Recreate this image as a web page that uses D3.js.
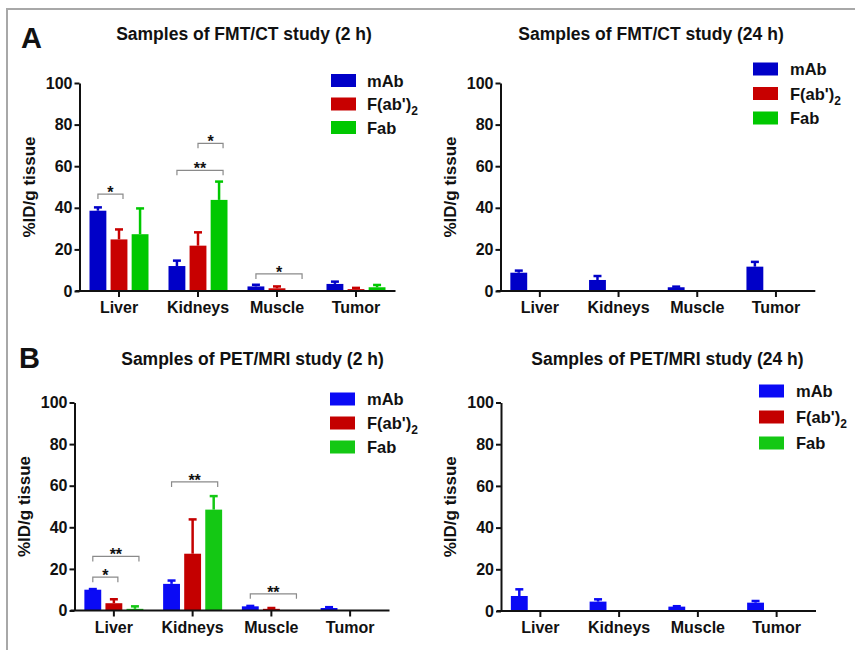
<!DOCTYPE html>
<html>
<head>
<meta charset="utf-8">
<script src="https://cdn.jsdelivr.net/npm/d3@7"></script>
<style>
  body { margin: 0; background: #fff; }
  svg text { font-family: "Liberation Sans", Arial, sans-serif; font-weight: bold; fill: #111; }
</style>
</head>
<body>
<svg id="chart" width="855" height="650"></svg>
<script>
const categories = ["Liver", "Kidneys", "Muscle", "Tumor"];
const seriesNames = ["mAb", "F(ab')2", "Fab"];
const yTicks = [0, 20, 40, 60, 80, 100];

// means / errors per series (mAb, F(ab')2, Fab), by category
const fmt2hMeans = [[38.6, 12.0, 2.2, 3.4], [24.8, 21.8, 1.3, 0.9], [27.3, 43.8, 0, 1.8]];
const fmt2hErr   = [[1.6, 2.6, 0.8, 1.1], [4.8, 6.4, 0.9, 0.6], [12.4, 8.8, 0, 1.1]];
const fmt24hMeans = [[8.8, 5.3, 1.8, 11.7], [0, 0, 0, 0], [0, 0, 0, 0]];
const fmt24hErr   = [[1.0, 1.9, 0.3, 2.3], [0, 0, 0, 0], [0, 0, 0, 0]];
const pet2hMeans = [[10.0, 12.8, 2.0, 1.2], [3.5, 27.3, 0.8, 0], [0.8, 48.5, 0, 0]];
const pet2hErr   = [[0.3, 1.6, 0.2, 0.4], [1.9, 16.5, 0.4, 0], [1.2, 6.5, 0, 0]];
const pet24hMeans = [[7.2, 4.5, 2.1, 4.0], [0, 0, 0, 0], [0, 0, 0, 0]];
const pet24hErr   = [[3.2, 1.1, 0.2, 0.8], [0, 0, 0, 0], [0, 0, 0, 0]];

// significance: category, from series, to series, bracket level, label
const fmt2hSig = [["Liver", 0, 1, 46.6, "*"], ["Kidneys", 0, 2, 58, "**"], ["Kidneys", 1, 2, 71, "*"], ["Muscle", 0, 2, 8.2, "*"]];
const pet2hSig = [["Liver", 0, 1, 16, "*"], ["Liver", 0, 2, 26, "**"], ["Kidneys", 0, 2, 61.8, "**"], ["Muscle", 0, 2, 8, "**"]];

const colorsA = ["#0000c8", "#c80000", "#00c800"];
const colorsB = ["#0a0af5", "#c40000", "#14c814"];

const svg = d3.select("#chart");

// figure frame
svg.append("path").attr("d", "M7,650 L7,9 L855,9")
  .attr("fill", "none").attr("stroke", "#a8a8a8").attr("stroke-width", 2);

svg.append("text").attr("x", 21).attr("y", 48).style("font-size", "29px").text("A");
svg.append("text").attr("x", 19).attr("y", 368).style("font-size", "29px").text("B");

function drawPanel(p) {
  const g = svg.append("g");
  const y = d3.scaleLinear().domain([0, 100]).range([p.y0, p.y100]);
  const x0 = d3.scaleBand().domain(categories).range([p.left, p.right]);
  const x1 = d3.scaleBand().domain(d3.range(seriesNames.length))
    .range([-29.5, 29.5]).paddingInner(0.2);
  const color = d3.scaleOrdinal().domain(d3.range(3)).range(p.colors);

  // title
  g.append("text").attr("x", p.titleX).attr("y", p.titleY)
    .attr("text-anchor", "middle").style("font-size", "17.5px").text(p.title);

  // y label
  g.append("text")
    .attr("transform", `translate(${p.left - 45},${y(50)}) rotate(-90)`)
    .attr("text-anchor", "middle").style("font-size", "17px").text("%ID/g tissue");

  // bars
  const cells = [];
  p.means.forEach((row, s) => row.forEach((v, c) => cells.push({ s, c: categories[c], v, e: p.err[s][c] })));

  g.selectAll("rect.bar").data(cells.filter(d => d.v > 0)).join("rect")
    .attr("class", "bar")
    .attr("x", d => x0(d.c) + x0.bandwidth() / 2 + x1(d.s))
    .attr("width", x1.bandwidth())
    .attr("y", d => y(d.v))
    .attr("height", d => y(0) - y(d.v))
    .attr("fill", d => color(d.s));

  // error bars (upper only)
  const eb = g.selectAll("g.err").data(cells.filter(d => d.v > 0 && d.e > 0)).join("g")
    .attr("class", "err")
    .attr("transform", d => `translate(${x0(d.c) + x0.bandwidth() / 2 + x1(d.s) + x1.bandwidth() / 2},0)`);
  eb.append("line").attr("x1", 0).attr("x2", 0)
    .attr("y1", d => y(d.v)).attr("y2", d => y(d.v + d.e))
    .attr("stroke", d => color(d.s)).attr("stroke-width", 2.5);
  eb.append("line").attr("x1", -4).attr("x2", 4)
    .attr("y1", d => y(d.v + d.e)).attr("y2", d => y(d.v + d.e))
    .attr("stroke", d => color(d.s)).attr("stroke-width", 2.5);

  // axes
  const yAxis = d3.axisLeft(y).tickValues(yTicks).tickSize(5).tickPadding(2).tickSizeOuter(0);
  const ya = g.append("g").attr("transform", `translate(${p.left},0)`).call(yAxis);
  ya.selectAll("path, line").attr("stroke", "#111").attr("stroke-width", 2);
  ya.selectAll("text").style("font-size", "16px").attr("fill", "#111");

  const xAxis = d3.axisBottom(x0).tickSize(6).tickPadding(5).tickSizeOuter(0);
  const xa = g.append("g").attr("transform", `translate(0,${p.y0})`).call(xAxis);
  xa.select(".domain").remove();
  xa.append("line").attr("x1", p.left - 4).attr("x2", p.right).attr("y1", 0).attr("y2", 0)
    .attr("stroke", "#111").attr("stroke-width", 2);
  xa.selectAll(".tick line").attr("stroke", "#111").attr("stroke-width", 2);
  xa.selectAll("text").style("font-size", "16px").attr("fill", "#111");

  // significance brackets
  const barCenter = (c, s) => x0(c) + x0.bandwidth() / 2 + x1(s) + x1.bandwidth() / 2;
  const sg = g.selectAll("g.sig").data(p.sig || []).join("g").attr("class", "sig");
  sg.append("path")
    .attr("d", d => {
      const xa1 = barCenter(d[0], d[1]), xa2 = barCenter(d[0], d[2]) + 4, yy = y(d[3]);
      return `M${xa1},${yy + 5}V${yy}H${xa2}V${yy + 5}`;
    })
    .attr("fill", "none").attr("stroke", "#8a8a8a").attr("stroke-width", 1.2);
  sg.append("text")
    .attr("x", d => (barCenter(d[0], d[1]) + barCenter(d[0], d[2]) + 4) / 2)
    .attr("y", d => y(d[3]) + 4)
    .attr("text-anchor", "middle").style("font-size", "16px").attr("fill", "#222")
    .text(d => d[4]);

  // legend
  const lg = g.append("g").attr("transform", `translate(${p.legX},${p.legY})`);
  seriesNames.forEach((name, i) => {
    const row = lg.append("g").attr("transform", `translate(0,${i * p.legStep})`);
    row.append("rect").attr("x", 0).attr("y", -6.5).attr("width", 25).attr("height", 13).attr("fill", color(i));
    const t = row.append("text").attr("x", p.legTextDx).attr("y", 6).style("font-size", "16.5px");
    if (name === "F(ab')2") {
      t.append("tspan").text("F(ab')");
      t.append("tspan").attr("dy", 5).style("font-size", "12px").text("2");
    } else {
      t.text(name);
    }
  });
}

drawPanel({ title: "Samples of FMT/CT study (2 h)", titleX: 244, titleY: 40,
  left: 79.5, right: 395.5, y0: 291, y100: 83, means: fmt2hMeans, err: fmt2hErr, sig: fmt2hSig,
  colors: colorsA, legX: 331, legY: 80.5, legStep: 23.5, legTextDx: 36 });
drawPanel({ title: "Samples of FMT/CT study (24 h)", titleX: 651, titleY: 40,
  left: 500.5, right: 815.3, y0: 291, y100: 83, means: fmt24hMeans, err: fmt24hErr,
  colors: colorsA, legX: 753, legY: 69, legStep: 24.5, legTextDx: 37 });
drawPanel({ title: "Samples of PET/MRI study (2 h)", titleX: 252.5, titleY: 365,
  left: 74.5, right: 389.5, y0: 610.5, y100: 402.5, means: pet2hMeans, err: pet2hErr, sig: pet2hSig,
  colors: colorsB, legX: 330, legY: 399, legStep: 24, legTextDx: 37 });
drawPanel({ title: "Samples of PET/MRI study (24 h)", titleX: 667.5, titleY: 365,
  left: 501, right: 816, y0: 611, y100: 402.5, means: pet24hMeans, err: pet24hErr,
  colors: colorsB, legX: 759, legY: 391, legStep: 26, legTextDx: 37 });
</script>
</body>
</html>
